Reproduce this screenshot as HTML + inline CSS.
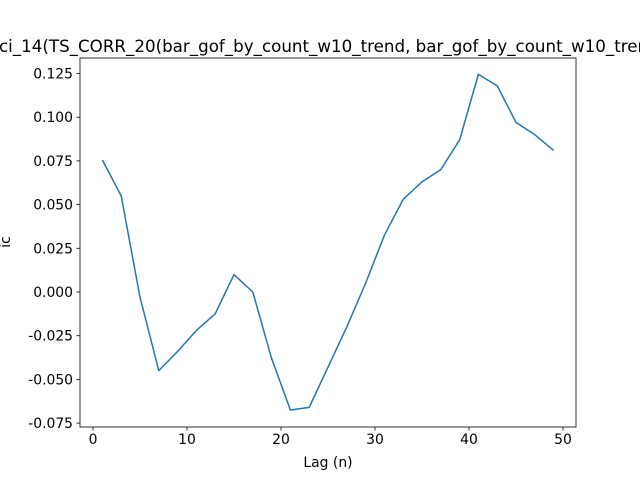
<!DOCTYPE html>
<html><head><meta charset="utf-8"><style>
body{margin:0;background:#fff;}
svg{display:block;font-family:"DejaVu Sans","Liberation Sans",sans-serif;}
</style></head><body>
<svg id="chart" width="640" height="480">
<rect x="0" y="0" width="640" height="480" fill="#fff"/>
<text x="-1" y="52" text-anchor="start" font-size="16.7" fill="#000">ci_14(TS_CORR_20(bar_gof_by_count_w10_trend, bar_gof_by_count_w10_trend))</text>
<g id="axes"></g>
</svg>
<script>
const lags=[1,3,5,7,9,11,13,15,17,19,21,23,25,27,29,31,33,35,37,39,41,43,45,47,49];
const icValues=[0.0755,0.055,-0.003,-0.045,-0.034,-0.022,-0.0125,0.010,0.000,-0.038,-0.0675,-0.066,-0.043,-0.020,0.005,0.0325,0.053,0.063,0.070,0.087,0.1245,0.118,0.097,0.090,0.081];
const xTicks=[0,10,20,30,40,50];
const yTicks=[-0.075,-0.050,-0.025,0.000,0.025,0.050,0.075,0.100,0.125];
const L=80,R=576,T=58,B=427;
function sx(v){return 93+v*9.4;}
function sy(v){return 292-v*1748;}
const NS="http://www.w3.org/2000/svg";
const g=document.getElementById('axes');
function mk(tag,attrs,txt){const e=document.createElementNS(NS,tag);for(const k in attrs)e.setAttribute(k,attrs[k]);if(txt!==undefined)e.textContent=txt;g.appendChild(e);return e;}
let d=lags.map((x,i)=>(i?'L':'M')+sx(x).toFixed(2)+','+sy(icValues[i]).toFixed(2)).join(' ');
const line=mk('path',{d:d,fill:'none',stroke:'#1f77b4','stroke-width':1.5,'stroke-linejoin':'round'});


const frame=mk('rect',{x:L,y:T,width:R-L,height:B-T,fill:'none',stroke:'#000','stroke-width':0.8});


xTicks.forEach(v=>{
  const t=mk('line',{x1:sx(v),x2:sx(v),y1:B,y2:B+3.5,stroke:'#000','stroke-width':0.8});
  
  
  const l=mk('text',{x:sx(v),y:B+17,'text-anchor':'middle','font-size':13.9},String(v));
  
  
});
yTicks.forEach(v=>{
  const t=mk('line',{x1:L-3.5,x2:L,y1:sy(v),y2:sy(v),stroke:'#000','stroke-width':0.8});
  
  
  const l=mk('text',{x:L-7,y:sy(v)+5,'text-anchor':'end','font-size':13.9},v.toFixed(3));
  
  
});
const xl=mk('text',{x:328,y:467,'text-anchor':'middle','font-size':13.9},'Lag (n)');


const yl=mk('text',{x:10,y:242,'text-anchor':'middle','font-size':13.9,transform:'rotate(-90 10 242)'},'ic');


</script>
</body></html>
